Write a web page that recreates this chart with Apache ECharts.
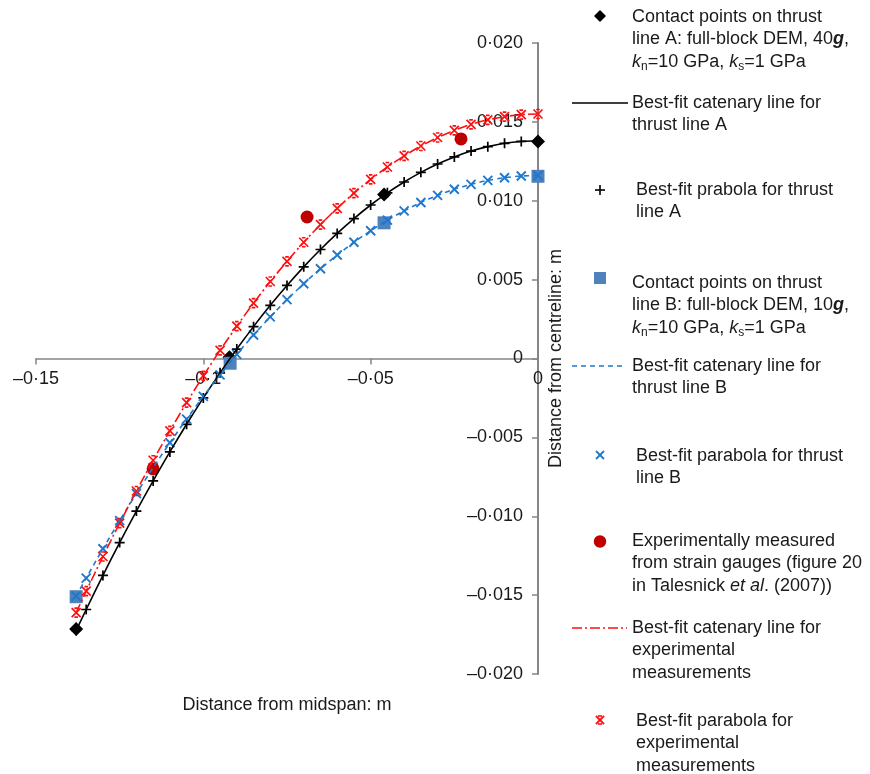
<!DOCTYPE html>
<html>
<head>
<meta charset="utf-8">
<script src="https://cdn.jsdelivr.net/npm/echarts@6/dist/echarts.min.js"></script>
<style>
html,body{margin:0;padding:0;background:#fff;}
#chart{width:870px;height:774px;}
</style>
</head>
<body>
<div id="chart"></div>
<script>
// ---- data ----
const xTickLabels = ['\u20130\u00b715', '\u20130\u00b71', '\u20130\u00b705', '0'];
const yTickLabels = ['\u20130\u00b7020', '\u20130\u00b7015', '\u20130\u00b7010', '\u20130\u00b7005', '0', '0\u00b7005', '0\u00b7010', '0\u00b7015', '0\u00b7020'];

const xFit = [0, -0.005, -0.01, -0.015, -0.02, -0.025, -0.03, -0.035, -0.04, -0.045, -0.05, -0.055, -0.06, -0.065, -0.07, -0.075, -0.08, -0.085, -0.09, -0.095, -0.1, -0.105, -0.11, -0.115, -0.12, -0.125, -0.13, -0.135, -0.138];

const parabolaA = [0.01380, 0.01376, 0.01364, 0.01343, 0.01315, 0.01278, 0.01233, 0.01180, 0.01119, 0.01050, 0.00973, 0.00887, 0.00793, 0.00691, 0.00581, 0.00463, 0.00337, 0.00202, 0.00060, -0.00091, -0.00250, -0.00417, -0.00592, -0.00776, -0.00967, -0.01167, -0.01375, -0.01591, -0.01724];
const catenaryA = [0.01380, 0.01376, 0.01364, 0.01343, 0.01315, 0.01278, 0.01233, 0.01180, 0.01119, 0.01050, 0.00973, 0.00887, 0.00793, 0.00691, 0.00581, 0.00463, 0.00337, 0.00202, 0.00060, -0.00091, -0.00250, -0.00417, -0.00592, -0.00776, -0.00967, -0.01167, -0.01375, -0.01591, -0.01724];

const parabolaB = [0.01160, 0.01157, 0.01146, 0.01129, 0.01104, 0.01073, 0.01034, 0.00989, 0.00936, 0.00877, 0.00810, 0.00737, 0.00656, 0.00569, 0.00474, 0.00373, 0.00264, 0.00149, 0.00026, -0.00104, -0.00240, -0.00384, -0.00534, -0.00692, -0.00856, -0.01028, -0.01206, -0.01392, -0.01506];
const catenaryB = [0.01160, 0.01157, 0.01146, 0.01129, 0.01104, 0.01073, 0.01034, 0.00989, 0.00936, 0.00877, 0.00810, 0.00737, 0.00656, 0.00569, 0.00474, 0.00373, 0.00264, 0.00149, 0.00026, -0.00104, -0.00240, -0.00384, -0.00534, -0.00692, -0.00856, -0.01028, -0.01206, -0.01392, -0.01506];

const parabolaExp = [0.01550, 0.01546, 0.01533, 0.01513, 0.01484, 0.01446, 0.01401, 0.01347, 0.01284, 0.01214, 0.01135, 0.01048, 0.00952, 0.00849, 0.00737, 0.00616, 0.00488, 0.00351, 0.00205, 0.00052, -0.00110, -0.00280, -0.00459, -0.00645, -0.00840, -0.01044, -0.01255, -0.01475, -0.01611];
const catenaryExp = [0.01550, 0.01546, 0.01533, 0.01513, 0.01484, 0.01446, 0.01401, 0.01347, 0.01284, 0.01214, 0.01135, 0.01048, 0.00952, 0.00849, 0.00737, 0.00616, 0.00488, 0.00351, 0.00205, 0.00052, -0.00110, -0.00280, -0.00459, -0.00645, -0.00840, -0.01044, -0.01255, -0.01475, -0.01611];

const contactAx = [-0.138, -0.0922, -0.046, 0];
const contactAy = [-0.01715, 0.00008, 0.01040, 0.01375];
const contactBx = [-0.138, -0.092, -0.046, 0];
const contactBy = [-0.01510, -0.00030, 0.00860, 0.01155];
const expX = [-0.115, -0.069, -0.023];
const expY = [-0.00700, 0.00897, 0.01392];

// ---- helpers ----
function pairs(xs, ys) { return xs.map((x, i) => [x, ys[i]]); }

const FONT = '"Liberation Sans", Arial, Helvetica, sans-serif';
const TXT = '#1a1a1a';
const BLACK = '#000000';
const BLUE_LINE = '#1f78cc';
const BLUE_SQ = '#4f81bd';
const RED = '#ff0f0f';
const DARKRED = '#c00000';
const AXIS = '#858585';

const PLUS = 'path://M0,5L10,5M5,0L5,10';
const CROSS = 'path://M0,0L10,10M10,0L0,10';
const STAR = 'path://M0,0L10,10M10,0L0,10M3,0L7,0M3,10L7,10';

const chart = echarts.init(document.getElementById('chart'), null, {renderer: 'canvas'});

const richStyles = {
  bi: {fontStyle: 'italic', fontWeight: 'bold', fontSize: 18, fontFamily: FONT, fill: TXT},
  i: {fontStyle: 'italic', fontSize: 18, fontFamily: FONT, fill: TXT},
  sub: {fontSize: 12, fontFamily: FONT, fill: TXT, padding: [10, 0, 0, 0]}
};

function legendText(x, yCenter, text) {
  return {
    type: 'text', x: x, y: yCenter - 11.25, silent: true,
    style: {
      text: text, fontSize: 18, fontFamily: FONT, fill: TXT,
      lineHeight: 22.5, verticalAlign: 'top', align: 'left', rich: richStyles
    }
  };
}

const graphics = [
  // 1 diamond
  {type: 'polygon', shape: {points: [[600, 10], [606, 16], [600, 22], [594, 16]]}, style: {fill: BLACK}},
  legendText(632, 17, 'Contact points on thrust\nline A: full-block DEM, 40{bi|g},\n{i|k}{sub|n}=10 GPa, {i|k}{sub|s}=1 GPa'),
  // 2 solid line
  {type: 'line', shape: {x1: 572, y1: 103, x2: 628, y2: 103}, style: {stroke: BLACK, lineWidth: 1.6}},
  legendText(632, 103, 'Best-fit catenary line for\nthrust line A'),
  // 3 plus
  {type: 'line', shape: {x1: 595, y1: 190, x2: 605, y2: 190}, style: {stroke: BLACK, lineWidth: 1.6}},
  {type: 'line', shape: {x1: 600, y1: 185, x2: 600, y2: 195}, style: {stroke: BLACK, lineWidth: 1.6}},
  legendText(636, 190, 'Best-fit prabola for thrust\nline A'),
  // 4 square
  {type: 'rect', shape: {x: 594, y: 272, width: 12, height: 12}, style: {fill: BLUE_SQ}},
  legendText(632, 283, 'Contact points on thrust\nline B: full-block DEM, 10{bi|g},\n{i|k}{sub|n}=10 GPa, {i|k}{sub|s}=1 GPa'),
  // 5 dashed line
  {type: 'line', shape: {x1: 572, y1: 366, x2: 624, y2: 366}, style: {stroke: BLUE_LINE, lineWidth: 1.6, lineDash: [5, 4]}},
  legendText(632, 366, 'Best-fit catenary line for\nthrust line B'),
  // 6 cross
  {type: 'line', shape: {x1: 596, y1: 451, x2: 604, y2: 459}, style: {stroke: BLUE_LINE, lineWidth: 1.8}},
  {type: 'line', shape: {x1: 604, y1: 451, x2: 596, y2: 459}, style: {stroke: BLUE_LINE, lineWidth: 1.8}},
  legendText(636, 456, 'Best-fit parabola for thrust\nline B'),
  // 7 circle
  {type: 'circle', shape: {cx: 600, cy: 541.5, r: 6.2}, style: {fill: DARKRED}},
  legendText(632, 541, 'Experimentally measured\nfrom strain gauges (figure 20\nin Talesnick {i|et al}. (2007))'),
  // 8 dash-dot line
  {type: 'line', shape: {x1: 572, y1: 628, x2: 627, y2: 628}, style: {stroke: RED, lineWidth: 1.6, lineDash: [10, 3, 2, 3]}},
  legendText(632, 628, 'Best-fit catenary line for\nexperimental\nmeasurements'),
  // 9 star
  {type: 'line', shape: {x1: 596, y1: 716, x2: 604, y2: 724}, style: {stroke: RED, lineWidth: 1.8}},
  {type: 'line', shape: {x1: 604, y1: 716, x2: 596, y2: 724}, style: {stroke: RED, lineWidth: 1.8}},
  {type: 'line', shape: {x1: 598, y1: 716, x2: 602, y2: 716}, style: {stroke: RED, lineWidth: 1.6}},
  {type: 'line', shape: {x1: 598, y1: 724, x2: 602, y2: 724}, style: {stroke: RED, lineWidth: 1.6}},
  legendText(636, 721, 'Best-fit parabola for\nexperimental\nmeasurements')
];

const option = {
  animation: false,
  backgroundColor: '#ffffff',
  grid: {left: 36, right: 332, top: 43, bottom: 100, containLabel: false, outerBoundsMode: 'none'},
  xAxis: {
    type: 'value', min: -0.15, max: 0, interval: 0.05,
    position: 'bottom', offset: -315.5,
    name: 'Distance from midspan: m', nameLocation: 'middle', nameGap: 338, nameMoveOverlap: false,
    nameTextStyle: {fontSize: 18, fontFamily: FONT, color: TXT},
    axisLine: {onZero: false, lineStyle: {color: AXIS, width: 1.5}},
    axisTick: {show: true, inside: false, length: 6, lineStyle: {color: AXIS, width: 1.5}},
    axisLabel: {
      margin: 12, fontSize: 18, fontFamily: FONT, color: TXT,
      formatter: (v, i) => xTickLabels[i]
    },
    splitLine: {show: false}
  },
  yAxis: {
    type: 'value', min: -0.02, max: 0.02, interval: 0.005,
    position: 'right', offset: 0,
    name: 'Distance from centreline: m', nameLocation: 'middle', nameRotate: 90, nameGap: 9, nameMoveOverlap: false,
    nameTextStyle: {fontSize: 18, fontFamily: FONT, color: TXT},
    axisLine: {onZero: false, lineStyle: {color: AXIS, width: 2}},
    axisTick: {show: true, inside: true, length: 6, lineStyle: {color: AXIS, width: 1.5}},
    axisLabel: {
      inside: true, margin: 15, fontSize: 18, fontFamily: FONT, color: TXT,
      formatter: (v, i) => yTickLabels[i]
    },
    splitLine: {show: false}
  },
  series: [
    {
      name: 'Contact points on thrust line A', type: 'scatter',
      data: pairs(contactAx, contactAy), symbol: 'diamond', symbolSize: 14,
      itemStyle: {color: BLACK, opacity: 1}
    },
    {
      name: 'Best-fit catenary line for thrust line A', type: 'line',
      data: pairs(xFit, catenaryA), symbol: 'none', smooth: 0.3,
      lineStyle: {color: BLACK, width: 1.6}
    },
    {
      name: 'Best-fit prabola for thrust line A', type: 'scatter',
      data: pairs(xFit, parabolaA), symbol: PLUS, symbolSize: 10,
      itemStyle: {color: 'transparent', borderColor: BLACK, borderWidth: 1.7, opacity: 1}
    },
    {
      name: 'Contact points on thrust line B', type: 'scatter',
      data: pairs(contactBx, contactBy), symbol: 'rect', symbolSize: 13,
      itemStyle: {color: BLUE_SQ, opacity: 1}
    },
    {
      name: 'Best-fit catenary line for thrust line B', type: 'line',
      data: pairs(xFit, catenaryB), symbol: 'none', smooth: 0.3,
      lineStyle: {color: BLUE_LINE, width: 1.6, type: [5, 4]}
    },
    {
      name: 'Best-fit parabola for thrust line B', type: 'scatter',
      data: pairs(xFit, parabolaB), symbol: CROSS, symbolSize: 9,
      itemStyle: {color: 'transparent', borderColor: BLUE_LINE, borderWidth: 1.9, opacity: 1}
    },
    {
      name: 'Best-fit catenary line for experimental measurements', type: 'line',
      data: pairs(xFit, catenaryExp), symbol: 'none', smooth: 0.3,
      lineStyle: {color: RED, width: 1.6, type: [10, 3, 2, 3]}
    },
    {
      name: 'Best-fit parabola for experimental measurements', type: 'scatter',
      data: pairs(xFit, parabolaExp), symbol: STAR, symbolSize: 9,
      itemStyle: {color: 'transparent', borderColor: RED, borderWidth: 1.7, opacity: 1}
    },
    {
      name: 'Experimentally measured', type: 'scatter',
      data: pairs(expX, expY), symbol: 'circle', symbolSize: 13,
      itemStyle: {color: DARKRED, opacity: 1}
    }
  ],
  graphic: graphics
};

chart.setOption(option);
</script>
</body>
</html>
